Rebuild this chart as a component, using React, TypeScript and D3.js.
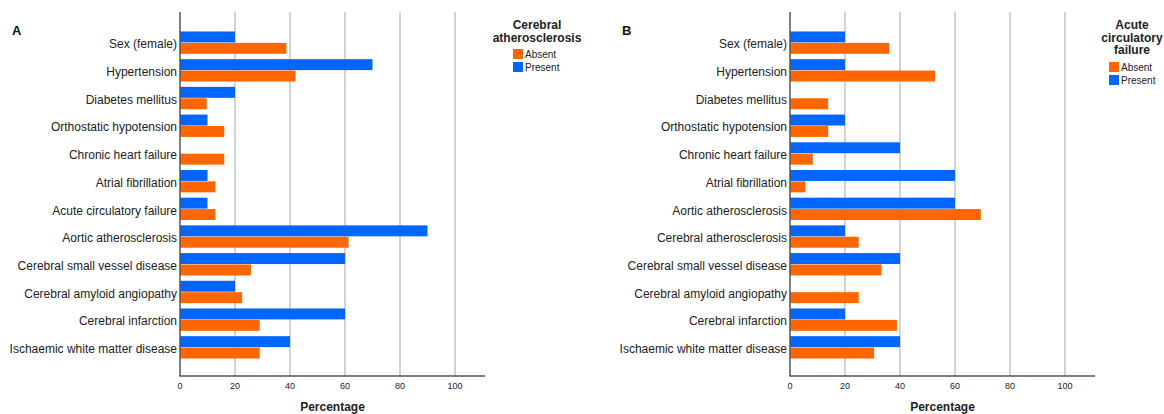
import * as d3 from 'd3'
import { useEffect, useRef } from 'react'

const W = 1164, H = 414
const FONT = '"Liberation Sans", Arial, sans-serif'
const BLUE = '#0066ff', ORANGE = '#ff6600'

const groups = ['Present', 'Absent']
const legendOrder = ['Absent', 'Present']
const ticks = [0, 20, 40, 60, 80, 100]

const catsA = [
  'Sex (female)', 'Hypertension', 'Diabetes mellitus', 'Orthostatic hypotension',
  'Chronic heart failure', 'Atrial fibrillation', 'Acute circulatory failure',
  'Aortic atherosclerosis', 'Cerebral small vessel disease', 'Cerebral amyloid angiopathy',
  'Cerebral infarction', 'Ischaemic white matter disease',
]
const presentA = [20, 70, 20, 10, 0, 10, 10, 90, 60, 20, 60, 40]
const absentA = [38.7, 42, 9.7, 16.1, 16.1, 12.9, 12.9, 61.3, 25.8, 22.6, 29, 29]

const catsB = [
  'Sex (female)', 'Hypertension', 'Diabetes mellitus', 'Orthostatic hypotension',
  'Chronic heart failure', 'Atrial fibrillation', 'Aortic atherosclerosis',
  'Cerebral atherosclerosis', 'Cerebral small vessel disease', 'Cerebral amyloid angiopathy',
  'Cerebral infarction', 'Ischaemic white matter disease',
]
const presentB = [20, 20, 0, 20, 40, 60, 60, 20, 40, 0, 20, 40]
const absentB = [36.1, 52.8, 13.9, 13.9, 8.3, 5.6, 69.4, 25, 33.3, 25, 38.9, 30.6]

const color = d3.scaleOrdinal<string, string>().domain(['Present', 'Absent']).range([BLUE, ORANGE])

type Panel = {
  letter: string, cats: string[], present: number[], absent: number[],
  x0: number, titleLines: string[], legX: number, legTitleY: number, legSwatchX: number, legSwatchY: number
}

const panels: Panel[] = [
  { letter: 'A', cats: catsA, present: presentA, absent: absentA, x0: 0,
    titleLines: ['Cerebral', 'atherosclerosis'], legX: 537, legTitleY: 29, legSwatchX: 513, legSwatchY: 49 },
  { letter: 'B', cats: catsB, present: presentB, absent: absentB, x0: 610,
    titleLines: ['Acute', 'circulatory', 'failure'], legX: 1132, legTitleY: 29, legSwatchX: 1109, legSwatchY: 62 },
]

const drawPanel = (svg: d3.Selection<SVGSVGElement, unknown, null, undefined>, p: Panel) => {
  const left = 180 + p.x0, right = 485 + p.x0
  const top = 12, bottom = 376

  const x = d3.scaleLinear().domain([0, 100]).range([left, left + 275])
  const y = d3.scaleBand().domain(p.cats).range([28.8, 361.2]).paddingInner(0.16).paddingOuter(0.08)
  const sub = d3.scaleBand().domain(groups).range([0, y.bandwidth()]).padding(0.04)

  const g = svg.append('g')

  // gridlines
  g.append('g')
    .selectAll('line')
    .data(ticks.slice(1))
    .join('line')
      .attr('x1', d => x(d)).attr('x2', d => x(d))
      .attr('y1', top).attr('y2', bottom)
      .attr('stroke', '#c4c4c4')
      .attr('stroke-width', 1.5)

  const rows = p.cats.map((c, i) => ({ cat: c, Present: p.present[i], Absent: p.absent[i] }))

  g.append('g')
    .selectAll('g')
    .data(rows)
    .join('g')
      .attr('transform', d => `translate(0,${y(d.cat)})`)
    .selectAll('rect')
    .data(d => groups.map(k => ({ key: k, value: (d as any)[k] as number })))
    .join('rect')
      .attr('x', x(0))
      .attr('y', d => sub(d.key)!)
      .attr('width', d => x(d.value) - x(0))
      .attr('height', sub.bandwidth())
      .attr('fill', d => color(d.key))

  // axes lines
  g.append('line')
    .attr('x1', left).attr('x2', left).attr('y1', top).attr('y2', bottom)
    .attr('stroke', '#555').attr('stroke-width', 1.5)
  g.append('line')
    .attr('x1', left - 0.75).attr('x2', right).attr('y1', bottom).attr('y2', bottom)
    .attr('stroke', '#555').attr('stroke-width', 1.5)

  // category labels
  g.append('g')
    .attr('font-family', FONT).attr('font-size', 12).attr('fill', '#222')
    .attr('text-anchor', 'end')
  .selectAll('text')
  .data(p.cats)
  .join('text')
    .attr('x', left - 3)
    .attr('y', d => y(d)! + y.bandwidth() / 2 + 1.5)
    .attr('dy', '0.35em')
    .text(d => d)

  // tick labels
  g.append('g')
    .attr('font-family', FONT).attr('font-size', 9).attr('fill', '#222')
    .attr('text-anchor', 'middle')
  .selectAll('text')
  .data(ticks)
  .join('text')
    .attr('x', d => x(d))
    .attr('y', 389)
    .text(d => d)

  g.append('text')
    .attr('x', (left + right) / 2).attr('y', 411)
    .attr('text-anchor', 'middle')
    .attr('font-family', FONT).attr('font-size', 12).attr('font-weight', 'bold').attr('fill', '#222')
    .text('Percentage')

  g.append('text')
    .attr('x', 12 + p.x0).attr('y', 35)
    .attr('font-family', FONT).attr('font-size', 13).attr('font-weight', 'bold').attr('fill', '#111')
    .text(p.letter)

  // legend
  const leg = g.append('g').attr('font-family', FONT).attr('fill', '#222')
  leg.selectAll('text.t')
    .data(p.titleLines)
    .join('text')
      .attr('class', 't')
      .attr('x', p.legX)
      .attr('y', (d, i) => p.legTitleY + i * 12.5)
      .attr('text-anchor', 'middle')
      .attr('font-size', 12).attr('font-weight', 'bold')
      .text(d => d)
  const items = leg.selectAll('g.i')
    .data(legendOrder)
    .join('g')
      .attr('class', 'i')
      .attr('transform', (d, i) => `translate(${p.legSwatchX},${p.legSwatchY + i * 13})`)
  items.append('rect').attr('width', 10).attr('height', 10).attr('fill', d => color(d))
  items.append('text').attr('x', 12).attr('y', 5).attr('dy', '0.35em').attr('font-size', 10).text(d => d)
}

export default function App() {
  const ref = useRef<SVGSVGElement>(null)
  useEffect(() => {
    if (!ref.current) return
    const svg = d3.select(ref.current)
    svg.selectAll('*').remove()
    panels.forEach(p => drawPanel(svg, p))
  }, [])
  return (
    <svg ref={ref} width={W} height={H}
      style={{ position: 'absolute', left: 0, top: 0, background: '#fff' }} />
  )
}
